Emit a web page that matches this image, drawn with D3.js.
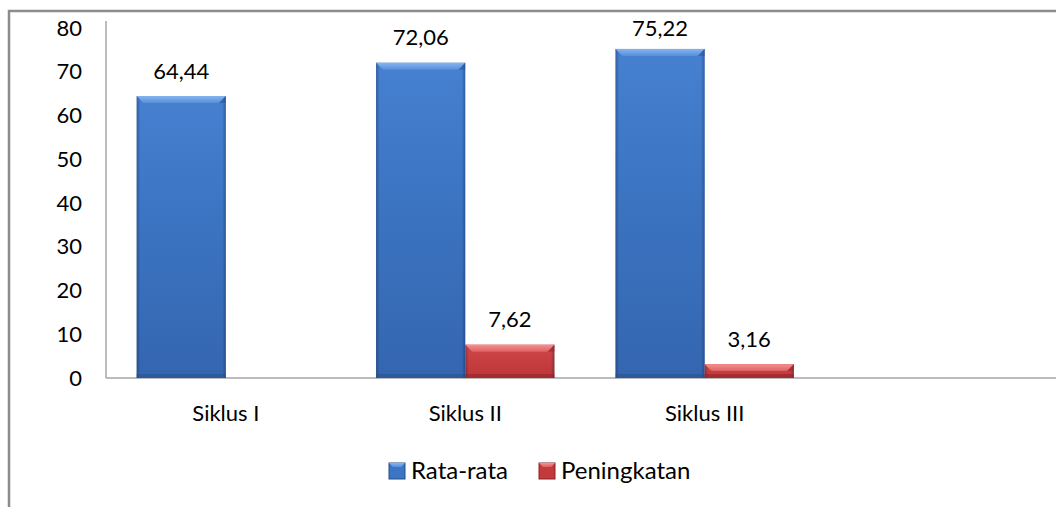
<!DOCTYPE html>
<html><head><meta charset="utf-8">
<script src="https://cdn.jsdelivr.net/npm/d3@7"></script>
<style>html,body{margin:0;padding:0;background:#fff;}svg{display:block;}</style>
</head><body>
<svg id="c" width="1056" height="507"></svg>
<script>
const categories = ["Siklus I", "Siklus II", "Siklus III"];
const seriesNames = ["Rata-rata", "Peningkatan"];
const rataRata = [64.44, 72.06, 75.22];
const peningkatan = [null, 7.62, 3.16];
const yTicks = [0, 10, 20, 30, 40, 50, 60, 70, 80];

const svg = d3.select("#c");
const font = "Lato, 'Open Sans', sans-serif";
const defs = svg.append("defs");

function vGrad(id, stops) {
  const g = defs.append("linearGradient").attr("id", id).attr("x1", 0).attr("x2", 0).attr("y1", 0).attr("y2", 1);
  stops.forEach(([o, c]) => g.append("stop").attr("offset", o).attr("stop-color", c));
}
function hGrad(id, stops) {
  const g = defs.append("linearGradient").attr("id", id).attr("x1", 0).attr("x2", 1).attr("y1", 0).attr("y2", 0);
  stops.forEach(([o, c, op]) => g.append("stop").attr("offset", o).attr("stop-color", c).attr("stop-opacity", op));
}
vGrad("gBlue", [["0%", "#4680d0"], ["40%", "#3c75c3"], ["100%", "#3466b0"]]);
vGrad("gRed", [["0%", "#d04648"], ["100%", "#bc3638"]]);
vGrad("tBlue", [["0%", "#86b4ee"], ["100%", "#5590dc"]]);
vGrad("tRed", [["0%", "#f59090"], ["100%", "#e06062"]]);
hGrad("edge", [["0%", "#0a1a40", 0.35], ["4%", "#0a1a40", 0], ["96%", "#0a1a40", 0], ["100%", "#0a1a40", 0.35]]);

// outer frame
svg.append("rect").attr("x", 9).attr("y", 11).attr("width", 1100).attr("height", 600)
  .attr("fill", "none").attr("stroke", "#8c8c8c").attr("stroke-width", 2.5);

const plotLeft = 106, plotTop = 28, plotBottom = 378, bandW = 239.5;
const x = d3.scaleBand().domain(categories).range([plotLeft, plotLeft + bandW * categories.length]).paddingInner(0.255).paddingOuter(0.128);
const xs = d3.scaleBand().domain(seriesNames).range([0, x.bandwidth()]);
const y = d3.scaleLinear().domain([0, 80]).range([plotBottom, plotTop]);

// y axis
const yAxis = d3.axisLeft(y).tickValues(yTicks).tickSize(0).tickPadding(24).tickFormat(d3.format("d"));
const ga = svg.append("g").attr("transform", `translate(${plotLeft},0)`).call(yAxis);
ga.select(".domain").attr("stroke", "#a6a6a6").attr("stroke-width", 1.5).attr("d", `M0,${y(80) - 7}V${plotBottom}`);
ga.selectAll("text").attr("font-family", font).attr("font-size", 22).attr("fill", "#000");

// x baseline
svg.append("line").attr("x1", plotLeft).attr("x2", 1056).attr("y1", plotBottom).attr("y2", plotBottom)
  .attr("stroke", "#a6a6a6").attr("stroke-width", 1.5);

const xAxis = d3.axisBottom(x).tickSize(0).tickPadding(27);
const gx = svg.append("g").attr("transform", `translate(0,${plotBottom})`).call(xAxis);
gx.select(".domain").remove();
gx.selectAll("text").attr("font-family", font).attr("font-size", 22).attr("fill", "#000");

const series = [
  { name: seriesNames[0], values: rataRata, fill: "url(#gBlue)", top: "url(#tBlue)", dark: "#244d88" },
  { name: seriesNames[1], values: peningkatan, fill: "url(#gRed)", top: "url(#tRed)", dark: "#8a2224" }
];
const fmt = v => v.toFixed(2).replace(".", ",");

series.forEach(s => {
  const data = categories.map((c, i) => ({ c, v: s.values[i] })).filter(d => d.v != null);
  const g = svg.append("g");
  const bars = g.selectAll("g").data(data).join("g");
  bars.each(function (d) {
    const el = d3.select(this);
    const x0 = x(d.c) + xs(s.name), w = xs.bandwidth();
    const yt = y(d.v), h = plotBottom - yt;
    const bev = Math.min(7, h / 2);
    el.append("rect").attr("x", x0).attr("y", yt).attr("width", w).attr("height", h).attr("fill", s.fill);
    el.append("rect").attr("x", x0).attr("y", yt).attr("width", w).attr("height", h).attr("fill", "url(#edge)");
    // top bevel
    el.append("path").attr("d", `M${x0},${yt}H${x0 + w}L${x0 + w - bev},${yt + bev}H${x0 + bev}Z`).attr("fill", s.top);
    el.append("path").attr("d", `M${x0 + w},${yt}L${x0 + w},${yt + bev}L${x0 + w - bev},${yt + bev}Z`).attr("fill", s.dark).attr("opacity", 0.45);
    // bottom shade
    const bh = Math.min(4, h / 3);
    el.append("rect").attr("x", x0).attr("y", plotBottom - bh).attr("width", w).attr("height", bh).attr("fill", s.dark).attr("opacity", 0.45);
    el.append("text").attr("x", x0 + w / 2).attr("y", Math.max(yt - 25, 28)).attr("dy", "0.35em").attr("text-anchor", "middle")
      .attr("font-family", font).attr("font-size", 22).attr("fill", "#000").text(fmt(d.v));
  });
});

// legend
const legend = svg.append("g").attr("transform", "translate(389,471)");
const items = [{ name: seriesNames[0], fill: "url(#tBlue)", base: "#3c75c3", stroke: "#244d88", x: 0 }, { name: seriesNames[1], fill: "url(#tRed)", base: "#c23a3c", stroke: "#8a2224", x: 150 }];
items.forEach(it => {
  const g = legend.append("g").attr("transform", `translate(${it.x},0)`);
  g.append("rect").attr("x", 0).attr("y", -8).attr("width", 16).attr("height", 16).attr("fill", it.base).attr("stroke", it.stroke).attr("stroke-width", 1);
  g.append("path").attr("d", "M0,-8H16L12,-4H4Z").attr("fill", it.fill);
  g.append("text").attr("x", 22).attr("y", 0).attr("dy", "0.35em").attr("font-family", font).attr("font-size", 24).attr("fill", "#000").text(it.name);
});
</script>
</body></html>
